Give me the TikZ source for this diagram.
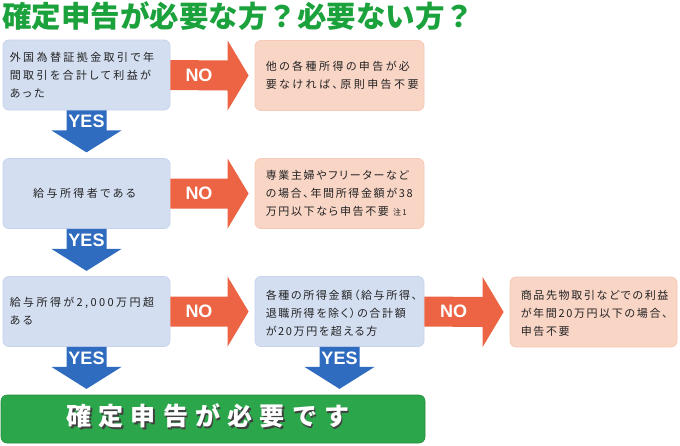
\documentclass[tikz,border=0pt]{standalone}
\usepackage{fontspec}
\setmainfont{Liberation Sans}
\newfontfamily\cjk{Noto Sans CJK JP}
\newfontfamily\cjkls{Noto Sans CJK JP}[LetterSpace=22,RawFeature=+palt]
\newfontfamily\cjklt{Noto Sans CJK JP}[LetterSpace=15,RawFeature=+palt]
\newfontfamily\cjkbanner{Noto Sans CJK JP}[LetterSpace=29]
\usetikzlibrary{calc}
\definecolor{titlegreen}{HTML}{1BA23C}
\definecolor{bluebox}{HTML}{D3DEF1}
\definecolor{blueedge}{HTML}{C6D3EC}
\definecolor{orbox}{HTML}{F9D5C6}
\definecolor{oredge}{HTML}{F6CAB7}
\definecolor{orarrow}{HTML}{EC6443}
\definecolor{bluearrow}{HTML}{2F6BBE}
\definecolor{bannergreen}{HTML}{2BA64A}
\definecolor{txt}{HTML}{222222}
\tikzset{
  bluecard/.style={rectangle, rounded corners=6pt, fill=bluebox, draw=blueedge, line width=0.8pt, minimum width=167pt, minimum height=70pt, inner sep=0pt},
  orcard/.style={rectangle, rounded corners=6pt, fill=orbox, draw=oredge, line width=0.8pt, minimum width=169pt, minimum height=70pt, inner sep=0pt},
  cardtext/.style={inner sep=0pt, text=txt, align=left, font=\cjkls\fontsize{11}{18}\selectfont},
  tightcardtext/.style={cardtext, font=\cjklt\fontsize{11}{18}\selectfont},
  noshape/.style={fill=orarrow},
  yesshape/.style={fill=bluearrow},
  arrlabel/.style={inner sep=0pt, text=white, font=\bfseries\fontsize{18}{18}\selectfont},
}
\newcommand\noarrow[3]{%
  \fill[noshape] ($(#1.east)+(0,-15)$) -- ($(#2.west)+(-27,-15)$) -- ($(#2.west)+(-27,-35)$)
    -- ($(#2.west)+(-6,0)$) -- ($(#2.west)+(-27,35)$) -- ($(#2.west)+(-27,15)$)
    -- ($(#1.east)+(0,15)$) -- cycle;
  \node[arrlabel] (#3) at ($(#1.east)!0.5!($(#2.west)+(-27,0)$)$) {NO};
}
\newcommand\yesarrow[2]{%
  \fill[yesshape] ($(#1.south)+(-20,0)$) -- ($(#1.south)+(-20,20)$) -- ($(#1.south)+(-35,20)$)
    -- ($(#1.south)+(0,42)$) -- ($(#1.south)+(35,20)$) -- ($(#1.south)+(20,20)$)
    -- ($(#1.south)+(20,0)$) -- cycle;
  \node[arrlabel] (#2) at ($(#1.south)+(0,11)$) {YES};
}
\begin{document}
\begin{tikzpicture}[x=1pt,y=-1pt]
\useasboundingbox (0,0) rectangle (680,445);
% title
\node[anchor=west, inner sep=0pt, text=titlegreen, font=\cjk\bfseries\fontsize{29.5}{30}\selectfont] (title) at (2,16) {確定申告が必要な方？必要ない方？};
% cards
\node[bluecard] (b1) at (86.5,75) {};
\node[orcard]   (o1) at (339.5,75.5) {};
\node[bluecard] (b2) at (86.5,193.5) {};
\node[orcard]   (o2) at (339.5,193.5) {};
\node[bluecard] (b3) at (86.5,311.5) {};
\node[bluecard, minimum width=169pt] (b4) at (339.5,311.5) {};
\node[orcard, minimum width=167pt]   (o3) at (593.5,312) {};
% banner
\node[rectangle, rounded corners=6pt, fill=bannergreen, draw=bannergreen!85!black, line width=0.6pt, minimum width=424pt, minimum height=48pt, inner sep=0pt] (goal) at (213,419) {};
% card texts
\node[cardtext, anchor=west] (t1) at ($(b1.west)+(7,0)$) {外国為替証拠金取引で年\\間取引を合計して利益が\\あった};
\node[cardtext, anchor=center] (t2) at ($(b2.center)+(-2,0)$) {給与所得者である};
\node[cardtext, anchor=west] (t3) at ($(b3.west)+(7,0)$) {給与所得が2,000万円超\\ある};
\node[cardtext, anchor=west] (u1) at ($(o1.west)+(11,0)$) {他の各種所得の申告が必\\要なければ、原則申告不要};
\node[tightcardtext, anchor=west] (u2) at ($(o2.west)+(11,0)$) {専業主婦やフリーターなど\\の場合、年間所得金額が38\\万円以下なら申告不要 {\fontsize{8}{8}\selectfont 注1}};
\node[tightcardtext, anchor=west] (t4) at ($(b4.west)+(11,2)$) {各種の所得金額（給与所得、\\退職所得を除く）の合計額\\が20万円を超える方};
\node[tightcardtext, anchor=west] (u3) at ($(o3.west)+(11,1)$) {商品先物取引などでの利益\\が年間20万円以下の場合、\\申告不要};
% arrows
\noarrow{b1}{o1}{no1}
\noarrow{b2}{o2}{no2}
\noarrow{b3}{b4}{no3}
\noarrow{b4}{o3}{no4}
\yesarrow{b1}{yes1}
\yesarrow{b2}{yes2}
\yesarrow{b3}{yes3}
\yesarrow{b4}{yes4}
% banner text
\node[inner sep=0pt, text=black!75, font=\cjkbanner\bfseries\fontsize{25}{25}\selectfont] (goalshadow) at ($(goal.center)+(-3.5,-1.5)$) {確定申告が必要です};
\node[inner sep=0pt, text=white, font=\cjkbanner\bfseries\fontsize{25}{25}\selectfont] (goaltext) at ($(goal.center)+(-5,-3)$) {確定申告が必要です};
\end{tikzpicture}
\end{document}
